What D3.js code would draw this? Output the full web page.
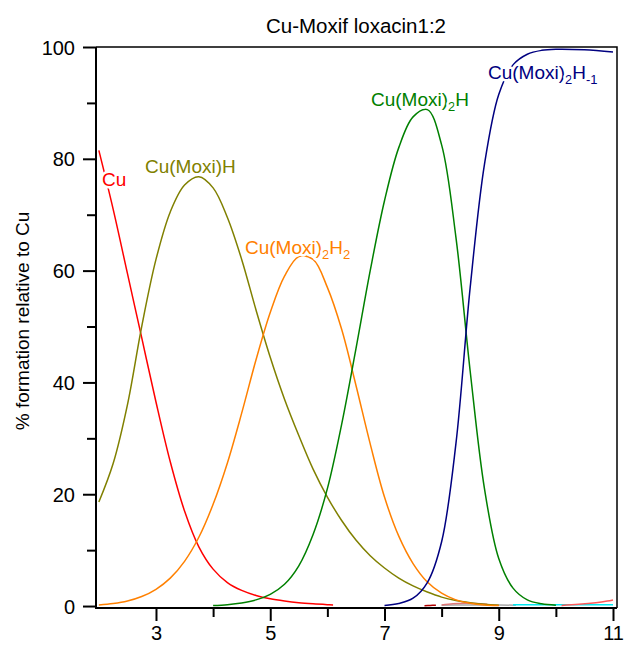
<!DOCTYPE html>
<html><head><meta charset="utf-8">
<script src="https://cdn.jsdelivr.net/npm/d3@7"></script>
<style>
body{margin:0;background:#fff}
svg{display:block}
text{font-family:Arial,"Liberation Sans",sans-serif}
</style>
</head><body>
<svg id="c" width="625" height="645"></svg>
<script>
// ---- data ----
const title = "Cu-Moxif loxacin1:2";
const yTitle = "% formation relative to Cu";
const xMajorTicks = [3, 5, 7, 9, 11];
const xMinorTicks = [4, 6, 8, 10];
const yMajorTicks = [0, 20, 40, 60, 80, 100];
const yMinorTicks = [10, 30, 50, 70, 90];

const pHCu = [2, 2.25, 2.5, 2.75, 3, 3.25, 3.5, 3.75, 4, 4.25, 4.5, 4.75, 5, 5.25, 5.5, 5.75, 6, 6.1];
const valCu = [81.5, 71, 59.5, 48, 36.5, 25.8, 17, 10.6, 6.6, 4.2, 2.8, 1.9, 1.3, 0.9, 0.6, 0.4, 0.25, 0.2];

const pHMH = [2, 2.25, 2.5, 2.75, 3, 3.25, 3.5, 3.75, 4, 4.25, 4.5, 4.75, 5, 5.25, 5.5, 5.75, 6, 6.25, 6.5, 6.75, 7, 7.25, 7.5, 7.75, 8, 8.25, 8.5, 8.75, 9];
const valMH = [18.6, 25.5, 36, 50, 62, 70.5, 75.3, 76.8, 74.8, 69.5, 62, 53, 44.5, 37, 30.5, 24.5, 19.5, 15.3, 11.8, 9, 6.8, 5, 3.6, 2.5, 1.6, 1.0, 0.6, 0.3, 0.15];

const pHM2H2 = [2, 2.25, 2.5, 2.75, 3, 3.25, 3.5, 3.75, 4, 4.25, 4.5, 4.75, 5, 5.25, 5.5, 5.75, 6, 6.25, 6.5, 6.75, 7, 7.25, 7.5, 7.75, 8, 8.25, 8.5, 8.75, 9];
const valM2H2 = [0.2, 0.45, 0.9, 1.7, 3.0, 5.0, 8.0, 12.3, 18.2, 25.6, 34.5, 44, 52.5, 59, 62.5, 62, 57, 49.5, 39.5, 29, 19.5, 12.5, 7.6, 4.3, 2.3, 1.1, 0.5, 0.2, 0.1];

const pHM2H = [4, 4.25, 4.5, 4.75, 5, 5.25, 5.5, 5.75, 6, 6.25, 6.5, 6.75, 7, 7.25, 7.5, 7.75, 8, 8.25, 8.5, 8.75, 9, 9.25, 9.5, 9.75, 10];
const valM2H = [0.1, 0.25, 0.55, 1.1, 2.1, 3.9, 7.2, 12.8, 21, 32.5, 46, 60, 72.5, 82, 87.5, 88.8, 82.5, 66, 42, 21, 8.5, 3.2, 1.1, 0.4, 0.15];

const pHM2Hm1 = [7, 7.25, 7.5, 7.75, 8, 8.25, 8.5, 8.75, 9, 9.25, 9.5, 9.75, 10, 10.5, 11];
const valM2Hm1 = [0.1, 0.45, 1.4, 4.2, 11.5, 29, 57, 79, 91.5, 96.8, 98.7, 99.4, 99.6, 99.5, 99.1];

// minor species near zero
const pHMinorA = [7.7, 7.8, 7.9];
const valMinorA = [0.05, 0.1, 0.15];
const pHMinorB = [8.0, 8.2, 8.4, 8.6, 8.8];
const valMinorB = [0.2, 0.4, 0.5, 0.45, 0.3];
const pHMinorC = [8.0, 8.4, 8.8, 9.3];
const valMinorC = [0.15, 0.2, 0.2, 0.15];
const pHMinorD = [9.25, 9.75, 10.25, 10.75, 11];
const valMinorD = [0.25, 0.25, 0.25, 0.25, 0.25];
const pHMinorE = [10.1, 10.4, 10.7, 10.9, 11];
const valMinorE = [0.1, 0.3, 0.6, 0.9, 1.1];

const series = [
  {x: pHMinorC, y: valMinorC, color: "#a8a8a8"},
  {x: pHMinorD, y: valMinorD, color: "#00e8f0"},
  {x: pHMinorE, y: valMinorE, color: "#ff5a5a"},
  {x: pHMinorA, y: valMinorA, color: "#b00000"},
  {x: pHMinorB, y: valMinorB, color: "#e07878"},
  {x: pHCu, y: valCu, color: "#ff0000"},
  {x: pHMH, y: valMH, color: "#808000"},
  {x: pHM2H2, y: valM2H2, color: "#ff8000"},
  {x: pHM2H, y: valM2H, color: "#008000"},
  {x: pHM2Hm1, y: valM2Hm1, color: "#000080"}
];

const labels = [
  {parts: [["Cu", 0]], x: 2.055, y: 75.2, color: "#ff0000"},
  {parts: [["Cu(Moxi)H", 0]], x: 2.808, y: 77.4, color: "#808000"},
  {parts: [["Cu(Moxi)", 0], ["2", 1], ["H", 0], ["2", 1]], x: 4.558, y: 62.9, color: "#ff8000"},
  {parts: [["Cu(Moxi)", 0], ["2", 1], ["H", 0]], x: 6.764, y: 89.5, color: "#008000"},
  {parts: [["Cu(Moxi)", 0], ["2", 1], ["H", 0], ["-1", 1]], x: 8.812, y: 94.3, color: "#000080"}
];

// ---- drawing ----
const svg = d3.select("#c");
const L = 96, R = 617, T = 47, B = 608;
const x = d3.scaleLinear().domain([1.95, 11.07]).range([L, R]);
const y = d3.scaleLinear().domain([-0.35, 100]).range([B, T]);

// frame (top & right)
svg.append("path").attr("d", `M${L},${T}H${R}V${B}`).attr("fill","none").attr("stroke","#000").attr("stroke-width",1.5);

// lines
const line = d3.line().x(d => x(d[0])).y(d => y(d[1])).curve(d3.curveCatmullRom.alpha(0.5));
series.forEach(s => {
  svg.append("path").datum(s.x.map((v, i) => [v, s.y[i]]))
    .attr("d", line).attr("fill","none").attr("stroke", s.color).attr("stroke-width", 1.5);
});

// axes
const xAxis = svg.append("g").attr("transform", `translate(0,${B})`)
  .call(d3.axisBottom(x).tickValues(xMajorTicks).tickSize(13).tickSizeOuter(0).tickFormat(d3.format("d")));
svg.append("g").attr("transform", `translate(0,${B})`)
  .call(d3.axisBottom(x).tickValues(xMinorTicks).tickSize(9).tickSizeOuter(0).tickFormat(""))
  .select(".domain").remove();
xAxis.selectAll("text").attr("y", 0).attr("dy", 0).attr("transform", "translate(0,32)")
  .attr("font-size", 20).attr("fill","#000");

const yAxis = svg.append("g").attr("transform", `translate(${L},0)`)
  .call(d3.axisLeft(y).tickValues(yMajorTicks).tickSize(13).tickSizeOuter(0).tickFormat(d3.format("d")));
svg.append("g").attr("transform", `translate(${L},0)`)
  .call(d3.axisLeft(y).tickValues(yMinorTicks).tickSize(9).tickSizeOuter(0).tickFormat(""))
  .select(".domain").remove();
yAxis.selectAll("text").attr("x", -21).attr("dy", "0.35em").attr("font-size", 20).attr("fill","#000");

svg.selectAll(".domain").attr("stroke-width", 2).attr("stroke","#000");
svg.selectAll(".tick line").attr("stroke-width", 2).attr("stroke","#000");
xAxis.select(".domain").attr("d", `M${L-1},0H${R}`);
yAxis.select(".domain").attr("d", `M0,${B+1}V${T}`);

// labels with white knock-out
labels.forEach(lb => {
  const t = svg.append("text").attr("x", x(lb.x)).attr("y", y(lb.y))
    .attr("fill", lb.color).attr("font-size", 19)
    .attr("stroke", "#fff").attr("stroke-width", 5).attr("paint-order", "stroke")
    .attr("stroke-linejoin","round");
  let shift = 0;
  lb.parts.forEach(p => {
    const dy = p[1] ? 5 - shift : -shift;
    shift = p[1] ? 5 : 0;
    t.append("tspan").attr("dy", dy).attr("font-size", p[1] ? 13 : 19).text(p[0]);
  });
});

// title
svg.append("text").attr("x", 356).attr("y", 33).attr("text-anchor","middle")
  .attr("font-size", 20.5).text(title);

// y title
svg.append("text").attr("transform", `translate(29,321) rotate(-90)`)
  .attr("text-anchor","middle").attr("font-size", 19).text(yTitle);
</script>
</body></html>
